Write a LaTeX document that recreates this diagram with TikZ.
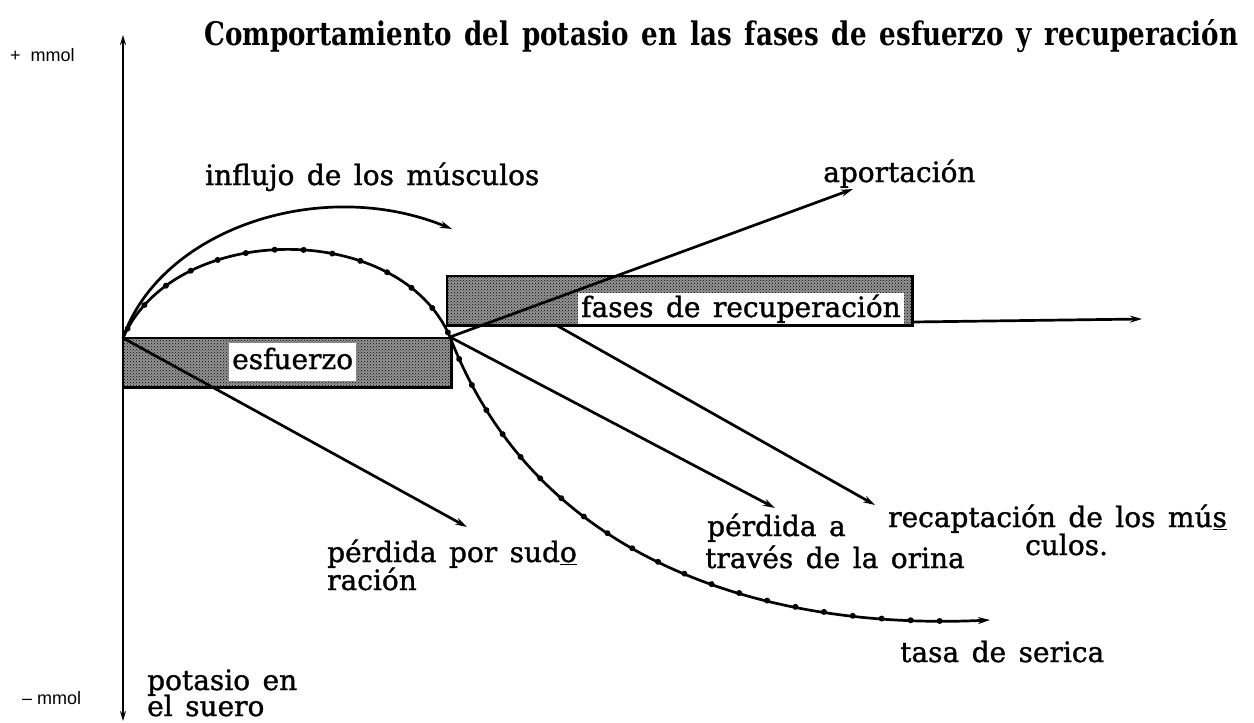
\documentclass[tikz,border=0pt]{standalone}
\usepackage{graphicx}
\usepackage{fontspec}
\setmainfont{DejaVu Serif}[WordSpace=1.4]
\newfontfamily\labf{DejaVu Serif}[WordSpace=1.4, FakeBold=1.2]
\newfontfamily\sansf{Liberation Sans}
\usetikzlibrary{arrows.meta,decorations.markings,patterns}
\begin{document}
\begin{tikzpicture}[x=1pt,y=-1pt,
  ln/.style={line width=2.7pt},
  arr/.style={ln,-{Stealth[length=12pt,width=7pt]}},
  lab/.style={font=\labf\fontsize{28}{34}\selectfont, inner sep=0pt, anchor=base west},
  gbox/.style={preaction={fill=black!42}, pattern=crosshatch dots, pattern color=black,
    draw=none, inner sep=0pt, anchor=north west},
  frame/.style={line width=2.9pt},
  mm/.style={font=\sansf\fontsize{18}{20}\selectfont, anchor=west, inner sep=0pt}
]
\useasboundingbox (0,0) rectangle (1254,723);

% shaded boxes
\node[gbox, minimum width=328pt, minimum height=49pt] (ebox) at (123,338) {};
\node[gbox, minimum width=465pt, minimum height=49pt] (rbox) at (447,276) {};

% coordinates
\coordinate (O) at (123,338);
\coordinate (P) at (450,337);
\coordinate (axTop) at (123,35);
\coordinate (axBot) at (123,721);
\coordinate (tInf) at (452,229);
\coordinate (tApo) at (853,189);
\coordinate (tSud) at (467,527);
\coordinate (tOri) at (775,508);
\coordinate (sRec) at (556,325);
\coordinate (tRec) at (875,505);
\coordinate (tSer) at (990,620);
\coordinate (hS) at (912,322);
\coordinate (tH) at (1142,319);

% axes
\draw[line width=2.9pt,{Stealth[length=10pt,width=6pt]}-{Stealth[length=10pt,width=6pt]}] (axTop) -- (axBot);
\draw[arr] (hS) -- (tH);

% curves
\draw[arr] (O) .. controls (160,230) and (320,175) .. (tInf);
\draw[arr, postaction={decorate},
  decoration={markings, mark=between positions 0.01 and 0.96 step 29pt with {\fill circle (3pt);}}]
  (O) .. controls (175,220) and (400,220) .. (P) .. controls (540,570) and (780,630) .. (tSer);

% straight arrows
\draw[arr] (O) -- (tSud);
\draw[arr] (P) -- (tApo);
\draw[arr] (P) -- (tOri);
\draw[arr] (sRec) -- (tRec);

% box labels
\node[lab, fill=white, inner xsep=3pt, inner ysep=2pt] (lEsf) at (229,369) {esfuerzo\strut};
\node[lab, fill=white, inner xsep=3pt, inner ysep=0pt] (lRec) at (578,317) {fases de recuperación\strut};

% frames
\draw[frame] (ebox.north west) rectangle (ebox.south east);
\draw[frame] (rbox.north west) rectangle (rbox.south east);

% title
\node[anchor=base west, inner sep=0pt] (title) at (204,45)
  {\resizebox{1034pt}{26pt}{\bfseries Comportamiento del potasio en las fases de esfuerzo y recuperación}};

% labels
\node[mm] (mp) at (10,55) {+\ \ mmol};
\node[mm] (mn) at (22,698) {–\ mmol};
\node[lab] (lInf) at (205,185) {influjo de los músculos};
\node[lab] (lApo) at (823,182) {aportación};
\node[lab] (lSud1) at (327,562) {pérdida por sud\underline{o}};
\node[lab] (lSud2) at (327,590) {ración};
\node[lab] (lOri1) at (707,536) {pérdida a};
\node[lab] (lOri2) at (705,568) {través de la orina};
\node[lab] (lRec1) at (888,527) {recaptación de los mú\underline{s}};
\node[lab] (lRec2) at (1025,555) {culos.};
\node[lab] (lSer) at (900,662) {tasa de serica};
\node[lab] (lPot1) at (147,690) {potasio en};
\node[lab] (lPot2) at (147,716) {el suero};
\end{tikzpicture}
\end{document}
